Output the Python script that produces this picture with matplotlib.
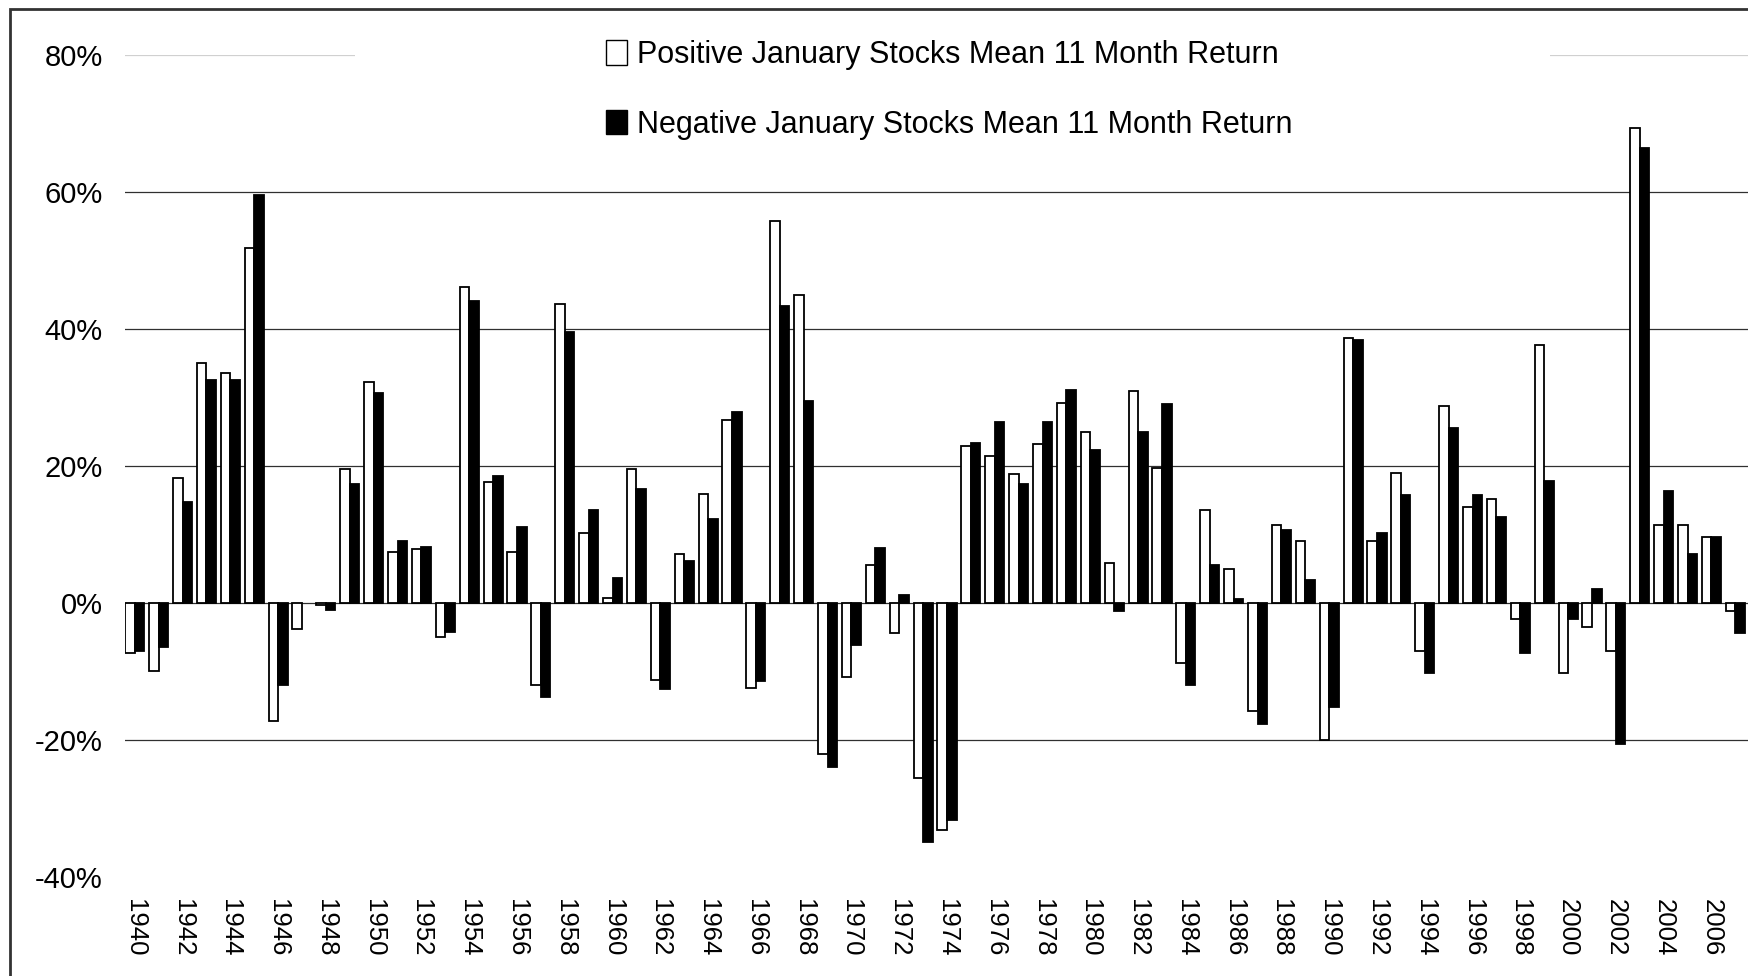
import numpy as np
import matplotlib
matplotlib.use('Agg')
import matplotlib.pyplot as plt
from matplotlib.patches import Patch, Rectangle

plt.rcParams['font.family'] = ['Liberation Sans', 'DejaVu Sans']

# 11 month return (Feb-Dec) in %, by year
years = list(range(1940, 2008))
positive_jan = [-7.3, -9.9, 18.3, 35.0, 33.6, 51.8, -17.2, -3.8, -0.3, 19.5,
                32.2, 7.5, 7.9, -4.9, 46.1, 17.7, 7.5, -11.9, 43.7, 10.2,
                0.8, 19.5, -11.3, 7.2, 15.9, 26.7, -12.4, 55.7, 44.9, -22.1,
                -10.8, 5.5, -4.4, -25.6, -33.1, 22.9, 21.4, 18.8, 23.2, 29.2,
                24.9, 5.8, 31.0, 19.7, -8.8, 13.6, 5.0, -15.7, 11.4, 9.0,
                -20.0, 38.7, 9.0, 19.0, -7.0, 28.8, 14.0, 15.2, -2.3, 37.6,
                -10.2, -3.5, -7.0, 69.4, 11.4, 11.4, 9.6, -1.1]
negative_jan = [-7.0, -6.4, 14.8, 32.5, 32.5, 59.5, -12.0, np.nan, -1.0, 17.4,
                30.7, 9.0, 8.2, -4.2, 44.1, 18.6, 11.1, -13.7, 39.5, 13.6,
                3.7, 16.6, -12.5, 6.1, 12.2, 27.9, -11.4, 43.3, 29.5, -23.9,
                -6.1, 8.1, 1.1, -34.9, -31.7, 23.3, 26.4, 17.4, 26.4, 31.1,
                22.3, -1.2, 24.9, 29.0, -12.0, 5.5, 0.6, -17.7, 10.6, 3.3,
                -15.2, 38.4, 10.2, 15.7, -10.2, 25.6, 15.7, 12.6, -7.3, 17.8,
                -2.4, 2.1, -20.6, 66.4, 16.4, 7.1, 9.6, -4.4]
yticks = [-40, -20, 0, 20, 40, 60, 80]
labels = ['Positive January Stocks Mean 11 Month Return',
          'Negative January Stocks Mean 11 Month Return']

fig = plt.figure(figsize=(17.48, 9.76), dpi=100)
ax = fig.add_axes([125 / 1748, 99 / 976, 1 - 125 / 1748, 822 / 976])

x = np.array(years)
w = 0.4
ax.bar(x - w / 2, positive_jan, width=w, color='white', edgecolor='black', linewidth=1.3, zorder=3)
ax.bar(x + w / 2, negative_jan, width=w, color='black', edgecolor='black', linewidth=1.3, zorder=3)

for v in yticks[1:-1]:
    ax.axhline(v, color='#303030', linewidth=0.9, zorder=1)
ax.axhline(yticks[-1], color='#d0d0d0', linewidth=0.9, zorder=1)
# white band behind the legend hides the middle of the top gridline
ax.add_patch(Rectangle((0.1417, 0.99), 0.736, 0.02, transform=ax.transAxes,
                       facecolor='white', edgecolor='none', zorder=2, clip_on=False))

ax.set_xlim(1939.59, 2007.53)
ax.set_ylim(-40, 80)
ax.set_yticks(yticks)
ax.set_yticklabels([f'{v}%' for v in yticks], fontsize=21)
ax.set_xticks(years[::2])
ax.set_xticklabels([str(y) for y in years[::2]], rotation=270, fontsize=18.5, va='top', ha='center')
ax.tick_params(axis='both', length=0)
ax.tick_params(axis='y', pad=16)
ax.tick_params(axis='x', pad=16)
for s in ax.spines.values():
    s.set_visible(False)

handles = [Patch(facecolor='white', edgecolor='black', linewidth=1.0),
           Patch(facecolor='black', edgecolor='black')]
fig.legend(handles, labels, loc='upper left', bbox_to_anchor=(606 / 1748, 1 - 40 / 976),
           frameon=False, fontsize=22, handlelength=0.68, handleheight=0.85,
           handletextpad=0.35, labelspacing=1.3, borderpad=0, borderaxespad=0)

# outer frame of the original picture (top and left edges only visible)
fig.patches.append(Rectangle((10 / 1748, -0.1), 1.2, 1.1 - 9 / 976, transform=fig.transFigure,
                             fill=False, edgecolor='#333333', linewidth=2, zorder=10))

fig.savefig('out.png', dpi=100)
